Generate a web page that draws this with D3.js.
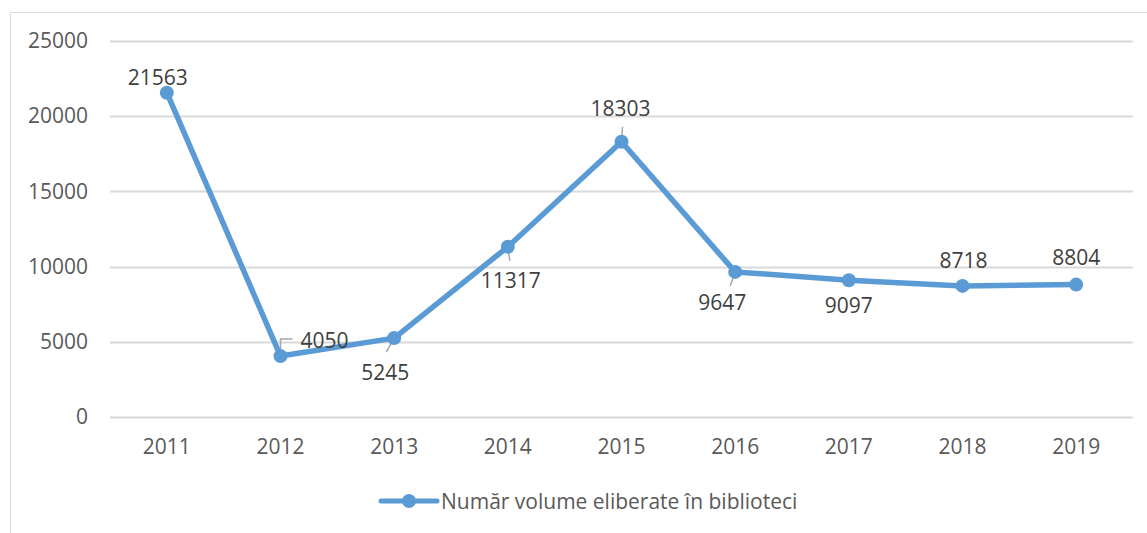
<!DOCTYPE html>
<html>
<head>
<meta charset="utf-8">
<script src="https://cdn.jsdelivr.net/npm/d3@7/dist/d3.min.js"></script>
<style>
  body { margin: 0; background: #fff; }
  text { font-family: "Open Sans", "Liberation Sans", sans-serif; }
</style>
</head>
<body>
<div id="viz"></div>
<script>
// data
var years = ['2011', '2012', '2013', '2014', '2015', '2016', '2017', '2018', '2019'];
var volumes = [21563, 4050, 5245, 11317, 18303, 9647, 9097, 8718, 8804];
var yTicks = [0, 5000, 10000, 15000, 20000, 25000];
var seriesName = 'Număr volume eliberate în biblioteci';

// where each data label sits relative to its point (dx, dy of text centre)
var labelPos = [
  [-9, -16], [44, -16], [-9, 34], [3, 33], [-1, -34], [-13, 30], [0, 25], [1, -26], [0, -28]
];

var width = 1147, height = 533;
var lineColor = '#5b9bd5';
var fontSize = '21px';

var svg = d3.select('#viz').append('svg')
  .attr('width', width)
  .attr('height', height);

// chart area border (only top and left visible)
svg.append('path')
  .attr('d', 'M10.5,' + height + 'V12.5H' + width)
  .attr('fill', 'none')
  .attr('stroke', '#d9d9d9')
  .attr('stroke-width', 1);

var x = d3.scaleBand().domain(years).range([110, 1133]);
var y = d3.scaleLinear().domain([0, 25000]).range([417, 41]);

// gridlines
svg.append('g').selectAll('line')
  .data(yTicks)
  .enter().append('line')
  .attr('x1', 110).attr('x2', 1133)
  .attr('y1', function(d) { return Math.round(y(d)) + 0.5; })
  .attr('y2', function(d) { return Math.round(y(d)) + 0.5; })
  .attr('stroke', '#d9d9d9')
  .attr('stroke-width', 2);

// y axis labels
var yAxis = svg.append('g')
  .attr('transform', 'translate(110,0)')
  .call(d3.axisLeft(y).tickValues(yTicks).tickSize(0).tickPadding(22).tickFormat(d3.format('d')));
yAxis.select('.domain').remove();
yAxis.selectAll('text')
  .attr('fill', '#595959')
  .style('font-size', fontSize);

// x axis labels
var xAxis = svg.append('g')
  .attr('transform', 'translate(0,417)')
  .call(d3.axisBottom(x).tickSize(0).tickPadding(22));
xAxis.select('.domain').remove();
xAxis.selectAll('text')
  .attr('fill', '#595959')
  .style('font-size', fontSize);

// line
function cx(i) { return x(years[i]) + x.bandwidth() / 2; }
var line = d3.line()
  .x(function(d, i) { return cx(i); })
  .y(function(d) { return y(d); });

svg.append('path')
  .datum(volumes)
  .attr('d', line)
  .attr('fill', 'none')
  .attr('stroke', lineColor)
  .attr('stroke-width', 5.5)
  .attr('stroke-linejoin', 'round');

// leader lines for labels moved away from their points
var leaders = svg.append('g')
  .attr('stroke', '#a6a6a6')
  .attr('stroke-width', 1.5)
  .attr('fill', 'none');
// 2012: elbow up then right
leaders.append('path')
  .attr('d', 'M' + cx(1) + ',' + y(volumes[1]) + 'V' + (y(volumes[1]) - 17) + 'H' + (cx(1) + 12));
// short ticks
[[2, -8, 14], [3, 2, 14], [4, 1, -15], [5, -5, 14]].forEach(function(t) {
  var i = t[0], px = cx(i), py = y(volumes[i]);
  leaders.append('line')
    .attr('x1', px).attr('y1', py)
    .attr('x2', px + t[1]).attr('y2', py + t[2]);
});

// markers
svg.append('g').selectAll('circle')
  .data(volumes)
  .enter().append('circle')
  .attr('cx', function(d, i) { return cx(i); })
  .attr('cy', function(d) { return y(d); })
  .attr('r', 7)
  .attr('fill', lineColor);

// data labels
svg.append('g').selectAll('text')
  .data(volumes)
  .enter().append('text')
  .attr('x', function(d, i) { return cx(i) + labelPos[i][0]; })
  .attr('y', function(d, i) { return y(d) + labelPos[i][1]; })
  .attr('text-anchor', 'middle')
  .attr('dominant-baseline', 'central')
  .attr('fill', '#404040')
  .style('font-size', fontSize)
  .text(function(d) { return d; });

// legend
var legend = svg.append('g').attr('transform', 'translate(381,501)');
legend.append('line')
  .attr('x1', 0).attr('x2', 56)
  .attr('stroke', lineColor)
  .attr('stroke-width', 5)
  .attr('stroke-linecap', 'round');
legend.append('circle')
  .attr('cx', 28).attr('r', 7)
  .attr('fill', lineColor);
legend.append('text')
  .attr('x', 60)
  .attr('dominant-baseline', 'central')
  .attr('fill', '#595959')
  .style('font-size', fontSize)
  .text(seriesName);
</script>
</body>
</html>
